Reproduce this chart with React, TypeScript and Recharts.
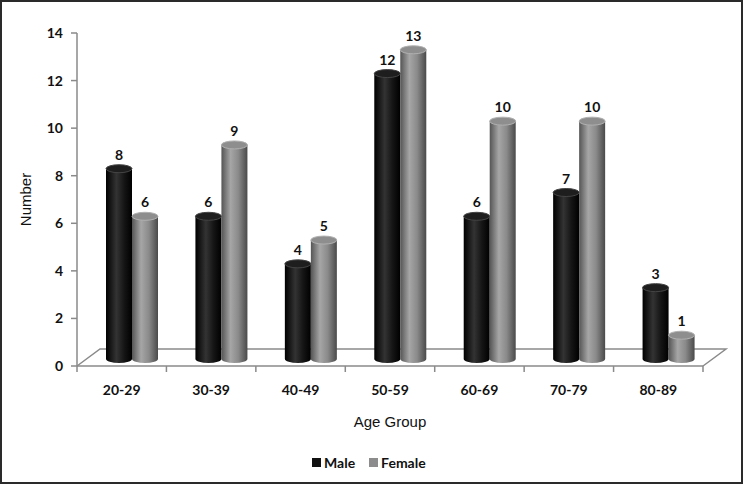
import React from 'react';
import { BarChart, Bar, XAxis, YAxis, LabelList } from 'recharts';

const categories = ['20-29', '30-39', '40-49', '50-59', '60-69', '70-79', '80-89'];
const maleValues = [8, 6, 4, 12, 6, 7, 3];
const femaleValues = [6, 9, 5, 13, 10, 10, 1];
const yTicks = [0, 2, 4, 6, 8, 10, 12, 14];

const data = categories.map((group, i) => ({ group, male: maleValues[i], female: femaleValues[i] }));

const W = 743;
const H = 484;
const LEFT = 77;
const RIGHT = 703;
const TOP = 33;
const BASE = 366;
// 3d depth offset of the bars and the floor
const DX = 10;
const DY = -7;
const RY = 4;
const FLOOR_DX = 23;
const FLOOR_DY = -17;

const axisGray = '#8a8a8a';
const labelFont = 'Lato, "DejaVu Sans", sans-serif';

const Cylinder = (props: any) => {
  const { x, y, width, height, fillId, capFill, capStroke } = props;
  if (height == null || width == null) return null;
  const left = x + DX;
  const top = y + DY;
  const bottom = y + height + DY;
  const rx = width / 2;
  const d = `M ${left} ${top} L ${left} ${bottom} A ${rx} ${RY} 0 0 0 ${left + width} ${bottom} L ${left + width} ${top} Z`;
  return (
    <g>
      <path d={d} fill={`url(#${fillId})`} />
      <ellipse cx={left + rx} cy={top} rx={rx} ry={RY} fill={capFill} stroke={capStroke} strokeWidth={1} />
    </g>
  );
};

const ValueLabel = (props: any) => {
  const { x, y, width, value } = props;
  return (
    <text
      x={x + DX + width / 2}
      y={y + DY - RY - 5}
      textAnchor="middle"
      fontFamily={labelFont}
      fontWeight={700}
      fontSize={14}
      fill="#111"
    >
      {value}
    </text>
  );
};

const XTick = (props: any) => {
  const { x, y, payload } = props;
  return (
    <text x={x} y={y + 23} textAnchor="middle" fontFamily={labelFont} fontWeight={700} fontSize={14} fill="#111">
      {payload.value}
    </text>
  );
};

const LegendBox = () => (
  <div
    style={{
      position: 'absolute',
      left: 312,
      top: 454,
      display: 'flex',
      alignItems: 'center',
      fontFamily: labelFont,
      fontWeight: 700,
      fontSize: 14,
      color: '#111',
    }}
  >
    <span style={{ width: 9, height: 9, background: '#111', display: 'inline-block', marginRight: 3 }} />
    <span style={{ marginRight: 14 }}>Male</span>
    <span style={{ width: 9, height: 9, background: '#8c8c8c', display: 'inline-block', marginRight: 3 }} />
    <span>Female</span>
  </div>
);

const Floor = () => {
  const band = (RIGHT - LEFT) / categories.length;
  const ticks = [];
  for (let i = 0; i <= categories.length; i++) {
    const tx = LEFT + i * band;
    ticks.push(<line key={i} x1={tx} y1={BASE} x2={tx} y2={BASE + 6} stroke={axisGray} strokeWidth={1.5} />);
  }
  return (
    <svg width={W} height={H} style={{ position: 'absolute', left: 0, top: 0 }}>
      <polyline
        points={`${LEFT},${BASE} ${LEFT + FLOOR_DX},${BASE + FLOOR_DY} ${RIGHT + FLOOR_DX},${BASE + FLOOR_DY} ${RIGHT},${BASE}`}
        fill="none"
        stroke={axisGray}
        strokeWidth={1.5}
      />
      {ticks}
    </svg>
  );
};

const App = () => {
  return (
    <div
      style={{
        position: 'absolute',
        left: 0,
        top: 0,
        width: W,
        height: H,
        boxSizing: 'border-box',
        border: '2px solid #2a2a2a',
        background: '#fff',
      }}
    >
      <div style={{ position: 'absolute', left: -2, top: -2, width: W, height: H }}>
        <Floor />
        <div style={{ position: 'absolute', left: 0, top: 0 }}>
          <BarChart
            width={W}
            height={H}
            data={data}
            margin={{ top: TOP, right: W - RIGHT, left: 0, bottom: 0 }}
            barSize={26}
            barGap={0}
          >
            <defs>
              <linearGradient id="maleGrad" x1="0" y1="0" x2="1" y2="0">
                <stop offset="0%" stopColor="#000" />
                <stop offset="40%" stopColor="#333" />
                <stop offset="70%" stopColor="#151515" />
                <stop offset="100%" stopColor="#000" />
              </linearGradient>
              <linearGradient id="femaleGrad" x1="0" y1="0" x2="1" y2="0">
                <stop offset="0%" stopColor="#555" />
                <stop offset="35%" stopColor="#a6a6a6" />
                <stop offset="65%" stopColor="#8a8a8a" />
                <stop offset="100%" stopColor="#4a4a4a" />
              </linearGradient>
            </defs>
            <XAxis
              dataKey="group"
              axisLine={{ stroke: axisGray, strokeWidth: 1.5 }}
              tickLine={false}
              tickMargin={0}
              tick={<XTick />}
              interval={0}
              height={H - BASE}
              label={(p: any) => {
                const vb = p.viewBox;
                return (
                  <text
                    x={vb.x + vb.width / 2}
                    y={vb.y + 61}
                    textAnchor="middle"
                    fontFamily='"Liberation Sans", Arial, sans-serif'
                    fontSize={15}
                    fill="#111"
                  >
                    Age Group
                  </text>
                );
              }}
            />
            <YAxis
              domain={[0, 14]}
              ticks={yTicks}
              width={LEFT}
              axisLine={{ stroke: axisGray, strokeWidth: 1.5 }}
              tickLine={{ stroke: axisGray, strokeWidth: 1.5 }}
              tickSize={6}
              tickMargin={8}
              tick={{ fill: '#111', fontFamily: labelFont, fontWeight: 700, fontSize: 14 }}
              label={(p: any) => {
                const vb = p.viewBox;
                const cy = vb.y + vb.height / 2;
                return (
                  <text
                    x={25}
                    y={cy}
                    transform={`rotate(-90, 25, ${cy})`}
                    textAnchor="middle"
                    dominantBaseline="central"
                    fontFamily='"Liberation Sans", Arial, sans-serif'
                    fontSize={15}
                    fill="#111"
                  >
                    Number
                  </text>
                );
              }}
            />
            <Bar
              dataKey="male"
              name="Male"
              isAnimationActive={false}
              shape={(p: any) => <Cylinder {...p} fillId="maleGrad" capFill="#1e1e1e" capStroke="#444" />}
            >
              <LabelList dataKey="male" content={<ValueLabel />} />
            </Bar>
            <Bar
              dataKey="female"
              name="Female"
              isAnimationActive={false}
              shape={(p: any) => <Cylinder {...p} fillId="femaleGrad" capFill="#8e8e8e" capStroke="#b0b0b0" />}
            >
              <LabelList dataKey="female" content={<ValueLabel />} />
            </Bar>
          </BarChart>
        </div>
        <LegendBox />
      </div>
    </div>
  );
};

export default App;
